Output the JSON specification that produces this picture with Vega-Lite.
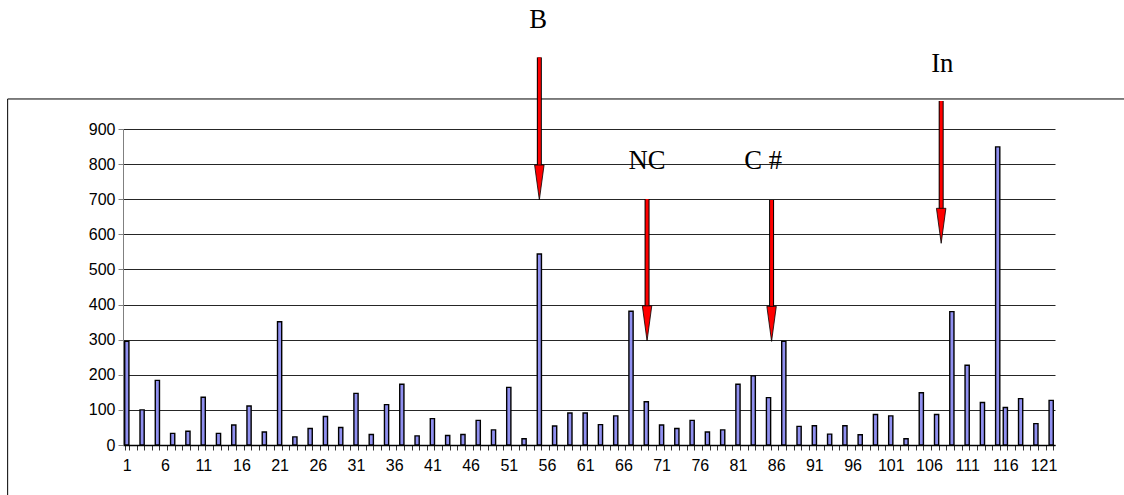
{
  "$schema": "https://vega.github.io/schema/vega-lite/v6.json",
  "width": 932,
  "height": 316,
  "autosize": {"type": "none"},
  "padding": {"left": 123, "top": 129, "right": 69, "bottom": 50},
  "background": "white",
  "config": {
    "view": {"stroke": null},
    "axisY": {
      "title": null, "grid": true, "gridColor": "#000000", "gridWidth": 1, "gridOpacity": 0.85,
      "domainColor": "#808080", "tickColor": "#808080", "tickSize": 5,
      "labelFont": "Liberation Sans", "labelFontSize": 16, "labelColor": "#000000", "labelPadding": 3
    },
    "axisX": {
      "title": null, "labelOverlap": false, "labelAngle": 0, "labelFont": "Liberation Sans", "labelFontSize": 16,
      "labelColor": "#000000", "labelPadding": 7, "tickSize": 5, "tickColor": "#333333",
      "domainColor": "#000000", "domainWidth": 1.5, "grid": false
    }
  },
  "datasets": {
    "bars": [
      {"i": 1, "v": 295}, {"i": 3, "v": 100}, {"i": 5, "v": 184}, {"i": 7, "v": 33}, {"i": 9, "v": 39},
      {"i": 11, "v": 136}, {"i": 13, "v": 33}, {"i": 15, "v": 57}, {"i": 17, "v": 111}, {"i": 19, "v": 37},
      {"i": 21, "v": 351}, {"i": 23, "v": 23}, {"i": 25, "v": 47}, {"i": 27, "v": 81}, {"i": 29, "v": 50},
      {"i": 31, "v": 147}, {"i": 33, "v": 30}, {"i": 35, "v": 115}, {"i": 37, "v": 173}, {"i": 39, "v": 26},
      {"i": 41, "v": 75}, {"i": 43, "v": 27}, {"i": 45, "v": 30}, {"i": 47, "v": 70}, {"i": 49, "v": 43},
      {"i": 51, "v": 164}, {"i": 53, "v": 18}, {"i": 55, "v": 544}, {"i": 57, "v": 54}, {"i": 59, "v": 91},
      {"i": 61, "v": 91}, {"i": 63, "v": 58}, {"i": 65, "v": 83}, {"i": 67, "v": 381}, {"i": 69, "v": 123},
      {"i": 71, "v": 57}, {"i": 73, "v": 47}, {"i": 75, "v": 70}, {"i": 77, "v": 37}, {"i": 79, "v": 43},
      {"i": 81, "v": 173}, {"i": 83, "v": 197}, {"i": 85, "v": 135}, {"i": 87, "v": 295}, {"i": 89, "v": 53},
      {"i": 91, "v": 55}, {"i": 93, "v": 31}, {"i": 95, "v": 55}, {"i": 97, "v": 29}, {"i": 99, "v": 87},
      {"i": 101, "v": 83}, {"i": 103, "v": 18}, {"i": 105, "v": 149}, {"i": 107, "v": 87}, {"i": 109, "v": 380},
      {"i": 111, "v": 227}, {"i": 113, "v": 121}, {"i": 115, "v": 849}, {"i": 116, "v": 107}, {"i": 118, "v": 132},
      {"i": 120, "v": 61}, {"i": 122, "v": 127}
    ],
    "frame": [
      {"x": -14.6, "x2": 140, "y": 985.5, "y2": 985.5},
      {"x": -14.6, "x2": -14.6, "y": 985.5, "y2": -300}
    ],
    "arrows": [
      {"name": "B", "x": 55, "top": 1104, "base": 790, "head": 747.6},
      {"name": "NC", "x": 69.1, "top": 700.6, "base": 392, "head": 346.6},
      {"name": "C #", "x": 85.4, "top": 697.8, "base": 392, "head": 345},
      {"name": "In", "x": 107.6, "top": 979.7, "base": 667, "head": 624.3}
    ],
    "labels": [
      {"label": "B", "x": 54.85, "y": 1187},
      {"label": "NC", "x": 69.1, "y": 785},
      {"label": "C #", "x": 84.3, "y": 785},
      {"label": "In", "x": 107.75, "y": 1061.6}
    ]
  },
  "layer": [
    {
      "data": {"name": "bars"},
      "mark": {"type": "bar", "fill": "#9090f0", "stroke": "#000000", "strokeWidth": 1.4},
      "encoding": {
        "x": {
          "field": "i", "type": "ordinal",
          "scale": {
            "domain": [1,2,3,4,5,6,7,8,9,10,11,12,13,14,15,16,17,18,19,20,21,22,23,24,25,26,27,28,29,30,31,32,33,34,35,36,37,38,39,40,41,42,43,44,45,46,47,48,49,50,51,52,53,54,55,56,57,58,59,60,61,62,63,64,65,66,67,68,69,70,71,72,73,74,75,76,77,78,79,80,81,82,83,84,85,86,87,88,89,90,91,92,93,94,95,96,97,98,99,100,101,102,103,104,105,106,107,108,109,110,111,112,113,114,115,116,117,118,119,120,121,122],
            "paddingInner": 0.45, "paddingOuter": 0.225
          },
          "axis": {
            "title": null, "orient": "bottom", "tickBand": "extent",
            "labelExpr": "(datum.value - 1) % 5 === 0 ? datum.label : ''"
          }
        },
        "y": {
          "field": "v", "type": "quantitative",
          "scale": {"domain": [0, 900], "nice": false, "zero": true},
          "axis": {"title": null, "values": [0,100,200,300,400,500,600,700,800,900]}
        }
      }
    },
    {
      "data": {"name": "frame"},
      "mark": {"type": "rule", "color": "#000000", "strokeWidth": 1},
      "encoding": {
        "x": {"field": "x", "type": "quantitative", "scale": {"domain": [0.5, 122.5], "nice": false, "zero": false}, "axis": null},
        "x2": {"field": "x2"},
        "y": {"field": "y", "type": "quantitative", "scale": {"domain": [0, 900], "nice": false}, "axis": {"title": null, "values": [0,100,200,300,400,500,600,700,800,900]}},
        "y2": {"field": "y2"}
      }
    },
    {
      "data": {"name": "arrows"},
      "mark": {"type": "rule", "color": "#000000", "strokeWidth": 5, "strokeCap": "butt"},
      "encoding": {
        "x": {"field": "x", "type": "quantitative", "scale": {"domain": [0.5, 122.5], "nice": false, "zero": false}, "axis": null},
        "y": {"field": "top", "type": "quantitative", "scale": {"domain": [0, 900], "nice": false}, "axis": {"title": null, "values": [0,100,200,300,400,500,600,700,800,900]}},
        "y2": {"field": "base"}
      }
    },
    {
      "data": {"name": "arrows"},
      "mark": {"type": "rule", "color": "#ff0000", "strokeWidth": 3, "strokeCap": "butt"},
      "encoding": {
        "x": {"field": "x", "type": "quantitative", "scale": {"domain": [0.5, 122.5], "nice": false, "zero": false}, "axis": null},
        "y": {"field": "top", "type": "quantitative", "scale": {"domain": [0, 900], "nice": false}, "axis": {"title": null, "values": [0,100,200,300,400,500,600,700,800,900]}},
        "y2": {"field": "base"}
      }
    },
    {
      "data": {"name": "arrows"},
      "mark": {"type": "point", "shape": "M-0.27,-1L0.27,-1L0,1Z", "size": 1225, "filled": true, "fill": "#ff0000", "stroke": "#000000", "strokeWidth": 0.8, "opacity": 1},
      "encoding": {
        "x": {"field": "x", "type": "quantitative", "scale": {"domain": [0.5, 122.5], "nice": false, "zero": false}, "axis": null},
        "y": {"field": "head", "type": "quantitative", "scale": {"domain": [0, 900], "nice": false}, "axis": {"title": null, "values": [0,100,200,300,400,500,600,700,800,900]}}
      }
    },
    {
      "data": {"name": "labels"},
      "mark": {"type": "text", "font": "Liberation Serif", "fontSize": 26.7, "align": "center", "baseline": "alphabetic", "color": "#000000"},
      "encoding": {
        "x": {"field": "x", "type": "quantitative", "scale": {"domain": [0.5, 122.5], "nice": false, "zero": false}, "axis": null},
        "y": {"field": "y", "type": "quantitative", "scale": {"domain": [0, 900], "nice": false}, "axis": {"title": null, "values": [0,100,200,300,400,500,600,700,800,900]}},
        "text": {"field": "label"}
      }
    }
  ],
  "resolve": {"scale": {"x": "independent"}}
}
